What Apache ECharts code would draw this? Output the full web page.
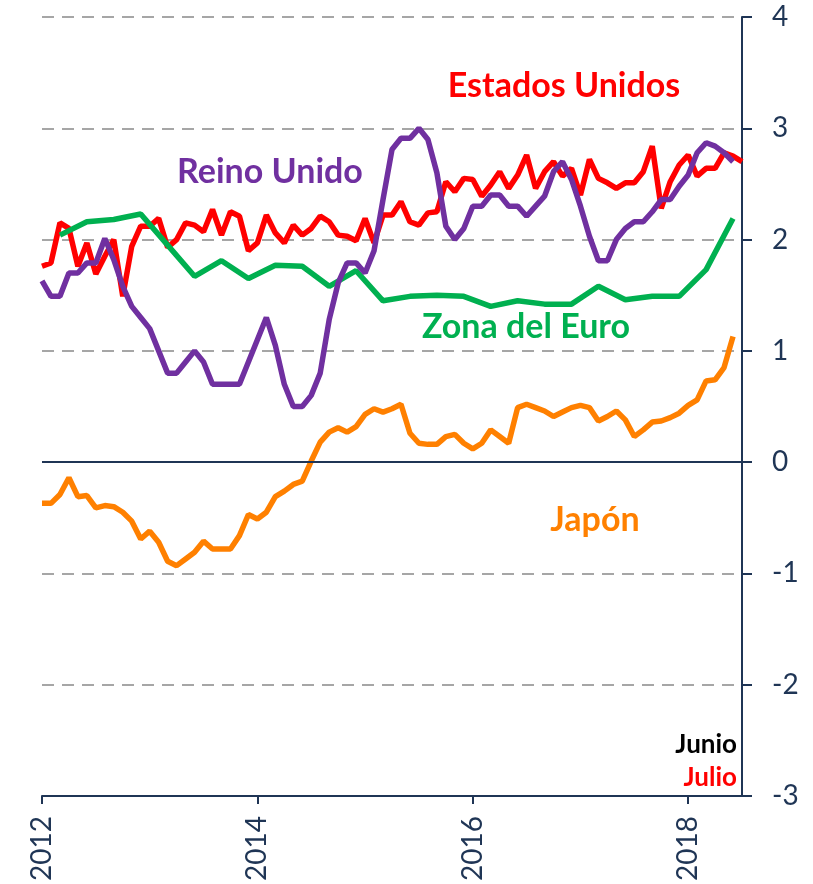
<!DOCTYPE html>
<html>
<head>
<meta charset="utf-8">
<script src="https://cdn.jsdelivr.net/npm/echarts@6.0.0/dist/echarts.min.js"></script>
<style>
  html, body { margin: 0; padding: 0; background: #fff; }
  #chart { width: 813px; height: 884px; }
</style>
</head>
<body>
<div id="chart"></div>
<script>
// monthly data, Jan 2012 .. Jul 2018
const startYear = 2012;
const monthCount = 79;

const usa = [
  1.76, 1.79, 2.15, 2.10, 1.76, 1.97, 1.69, 1.85, 2.00, 1.49, 1.94, 2.12,
  2.12, 2.19, 1.93, 2.00, 2.15, 2.13, 2.07, 2.27, 2.04, 2.25, 2.21, 1.90,
  1.97, 2.22, 2.06, 1.97, 2.13, 2.04, 2.10, 2.21, 2.16, 2.04, 2.03, 1.99,
  2.19, 1.97, 2.22, 2.22, 2.34, 2.16, 2.13, 2.24, 2.25, 2.52, 2.43, 2.55,
  2.54, 2.39, 2.49, 2.61, 2.46, 2.58, 2.76, 2.46, 2.61, 2.70, 2.57, 2.64,
  2.40, 2.72, 2.55, 2.51, 2.46, 2.51, 2.51, 2.61, 2.84, 2.28, 2.52, 2.67,
  2.76, 2.57, 2.64, 2.64, 2.78, 2.75, 2.70
];

const uk = [
  1.63, 1.49, 1.49, 1.70, 1.70, 1.79, 1.79, 2.01, 1.82, 1.58, 1.40, 1.30,
  1.20, 1.00, 0.80, 0.80, 0.90, 1.00, 0.90, 0.70, 0.70, 0.70, 0.70, 0.90,
  1.10, 1.30, 1.05, 0.70, 0.50, 0.50, 0.60, 0.80, 1.28, 1.61, 1.79, 1.79,
  1.70, 1.90, 2.36, 2.81, 2.91, 2.91, 3.00, 2.90, 2.60, 2.12, 2.00, 2.10,
  2.30, 2.30, 2.40, 2.40, 2.30, 2.30, 2.21, 2.30, 2.39, 2.61, 2.70, 2.54,
  2.30, 2.03, 1.81, 1.81, 2.00, 2.10, 2.16, 2.16, 2.25, 2.36, 2.36, 2.48,
  2.58, 2.78, 2.87, 2.84, 2.78, 2.70
];

const japan = [
  -0.37, -0.37, -0.29, -0.14, -0.31, -0.30, -0.41, -0.39, -0.40, -0.45, -0.53, -0.69,
  -0.62, -0.72, -0.89, -0.93, -0.87, -0.81, -0.71, -0.78, -0.78, -0.78, -0.66, -0.47,
  -0.51, -0.45, -0.31, -0.26, -0.20, -0.17, 0.01, 0.18, 0.27, 0.31, 0.27, 0.32,
  0.43, 0.48, 0.45, 0.48, 0.52, 0.26, 0.17, 0.16, 0.16, 0.23, 0.25, 0.17,
  0.12, 0.17, 0.29, 0.23, 0.17, 0.49, 0.52, 0.49, 0.46, 0.41, 0.45, 0.49,
  0.51, 0.49, 0.37, 0.41, 0.46, 0.38, 0.23, 0.29, 0.36, 0.37, 0.40, 0.44,
  0.51, 0.56, 0.73, 0.74, 0.85, 1.13
];

// euro area is quarterly: Mar 2012, Jun 2012, ... Jun 2018
const euroFirstMonth = 2;
const euro = [
  2.04, 2.16, 2.18, 2.23, 1.95, 1.67, 1.81, 1.65, 1.77, 1.76, 1.58, 1.72, 1.45,
  1.49, 1.50, 1.49, 1.40, 1.45, 1.42, 1.42, 1.58, 1.46, 1.49, 1.49, 1.73, 2.19
];

const yTicks = [-3, -2, -1, 0, 1, 2, 3, 4];

const months = [];
for (let i = 0; i < monthCount; i++) {
  const y = startYear + Math.floor(i / 12);
  const m = (i % 12) + 1;
  months.push(y + '-' + (m < 10 ? '0' + m : m));
}
const euroData = euro.map((v, i) => [months[euroFirstMonth + 3 * i], v]);

const navy = '#1F3555';
const font = 'Lato, "Open Sans", sans-serif';

const chart = echarts.init(document.getElementById('chart'));

function lineSeries(name, data, color, extra) {
  return Object.assign({
    name: name,
    type: 'line',
    data: data,
    symbol: 'none',
    smooth: false,
    connectNulls: true,
    lineStyle: { color: color, width: 5.5 },
    itemStyle: { color: color },
    animation: false
  }, extra || {});
}

function label(text, x, y, color, size, align) {
  return {
    type: 'text',
    x: x,
    y: y,
    silent: true,
    style: {
      text: text,
      fill: color,
      font: 'bold ' + size + 'px ' + font,
      align: align || 'center',
      verticalAlign: 'middle'
    }
  };
}

chart.setOption({
  backgroundColor: '#ffffff',
  animation: false,
  grid: { left: 42, right: 71, top: 17, bottom: 87 },
  xAxis: {
    type: 'category',
    data: months,
    boundaryGap: false,
    axisLine: { onZero: false, lineStyle: { color: navy, width: 2 } },
    axisTick: {
      length: 8,
      interval: (i) => i % 24 === 0,
      lineStyle: { color: navy, width: 2 }
    },
    axisLabel: {
      interval: (i) => i % 24 === 0,
      rotate: 90,
      margin: 20,
      color: navy,
      fontSize: 28,
      fontFamily: font,
      formatter: (v) => v.slice(0, 4)
    },
    splitLine: { show: false }
  },
  yAxis: {
    type: 'value',
    position: 'right',
    min: yTicks[0],
    max: yTicks[yTicks.length - 1],
    interval: 1,
    axisLine: { show: true, lineStyle: { color: navy, width: 2 } },
    axisTick: { show: true, length: 10, lineStyle: { color: navy, width: 2 } },
    axisLabel: {
      margin: 30,
      color: navy,
      fontSize: 28,
      fontFamily: font
    },
    splitLine: {
      show: true,
      lineStyle: { color: '#A6A6A6', width: 2, type: [12, 8] }
    }
  },
  series: [
    lineSeries('Estados Unidos', usa, '#FF0000', {
      markLine: {
        silent: true,
        symbol: 'none',
        animation: false,
        label: { show: false },
        lineStyle: { color: navy, width: 2, type: 'solid' },
        data: [{ yAxis: 0 }]
      }
    }),
    lineSeries('Zona del Euro', euroData, '#00B050'),
    lineSeries('Reino Unido', uk, '#7030A0'),
    lineSeries('Japón', japan, '#FF8000')
  ],
  graphic: [
    label('Estados Unidos', 564, 86, '#FF0000', 34),
    label('Reino Unido', 270, 172, '#7030A0', 34),
    label('Zona del Euro', 526, 327, '#00B050', 34),
    label('Japón', 595, 520, '#FF8000', 34),
    label('Junio', 737, 745, '#000000', 26, 'right'),
    label('Julio', 737, 778, '#FF0000', 26, 'right')
  ]
});
</script>
</body>
</html>
